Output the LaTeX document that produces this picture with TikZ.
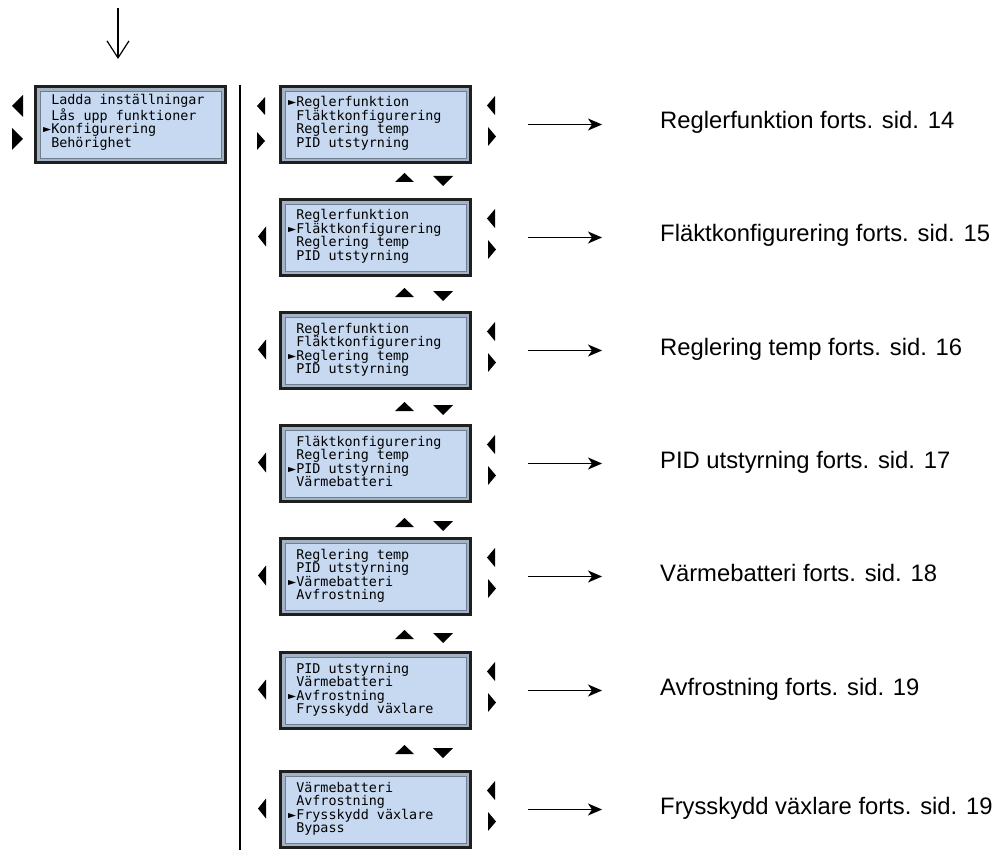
\documentclass[tikz,border=0pt]{standalone}
\usepackage{fontspec}
\setmainfont{Liberation Sans}
\newfontfamily\lcdfont{DejaVu Sans Mono}
\usetikzlibrary{arrows.meta}
\definecolor{lcdblue}{HTML}{C6D9F1}
\definecolor{lcdbevel}{HTML}{A3B3C4}
\definecolor{lcdedge}{HTML}{6E7E8E}
\tikzset{
  x=1pt, y=-1pt,
  lcdouter/.style={draw=black!88, line width=3pt, fill=lcdbevel, minimum width=190pt, minimum height=76pt, inner sep=0pt, outer sep=0pt},
  lcdinner/.style={draw=lcdedge, line width=0.7pt, fill=lcdblue, minimum width=181pt, minimum height=67pt, inner sep=0pt, outer sep=0pt},
  lcdtext/.style={anchor=base west, inner sep=0pt, align=left, font=\lcdfont\fontsize{13.4}{13.5}\selectfont},
  lbl/.style={anchor=base west, inner sep=0pt, font=\fontsize{23.8}{28}\selectfont},
  conn/.style={line width=1.3pt, -{Stealth[length=14pt,width=12pt,inset=4pt]}},
  marker/.style={fill=black},
}
\newcommand\lsp{\hphantom{X}}
\newcommand\lsel{►}
\newcommand\lcdbox[4]{%
  \node[lcdouter] (#1) at (#2+96.5,#3+39.5) {};
  \node[lcdinner] (#1-in) at (#1.center) {};
  \node[lcdtext] (#1-t) at (#2+9,#3+62.5) {#4};
}
% left-pointing triangle: x-left, y-center, width, height
\newcommand\tril[4]{\fill[marker] (#1,#2) -- (#1+#3,#2-#4/2) -- (#1+#3,#2+#4/2) -- cycle;}
\newcommand\trir[4]{\fill[marker] (#1,#2-#4/2) -- (#1+#3,#2) -- (#1,#2+#4/2) -- cycle;}
% up/down: x-center, y-top, width, height
\newcommand\triu[4]{\fill[marker] (#1-#3/2,#2+#4) -- (#1,#2) -- (#1+#3/2,#2+#4) -- cycle;}
\newcommand\trid[4]{\fill[marker] (#1-#3/2,#2) -- (#1+#3/2,#2) -- (#1,#2+#4) -- cycle;}
% right-side pair for a box with given top
\newcommand\rpair[1]{\tril{487}{#1+20.5}{8}{19}\trir{488}{#1+51.5}{8}{19}}
\newcommand\updown[1]{\triu{404.5}{#1}{19}{9}\trid{443}{#1+3}{20}{10}}
\newcommand\outarrow[3]{% name, cy, label
  \coordinate (#1s) at (528,#2);
  \coordinate (#1e) at (602,#2);
  \draw[conn] (#1s) -- (#1e);
  \node[lbl] (#1l) at (660,#2+4.5) {#3};
}
\begin{document}
\begin{tikzpicture}
\useasboundingbox (0,0) rectangle (995,850);

% entry arrow
\coordinate (entryS) at (118,8);
\coordinate (entryE) at (118,59);
\draw[line width=1.2pt, -{Straight Barb[length=17pt,width=22pt]}] (entryS) -- (entryE);

% left box
\lcdbox{main}{34}{85}{\lsp Ladda inställningar\\\lsp Lås upp funktioner\\\lsel Konfigurering\\\lsp Behörighet}
\tril{12}{106}{11}{22}
\trir{12}{139}{11}{22}

% separator
\coordinate (sepT) at (240,85);
\coordinate (sepB) at (240,850);
\draw[line width=1.6pt] (sepT) -- (sepB);

% right boxes
\lcdbox{b1}{279}{85}{\lsel Reglerfunktion\\\lsp Fläktkonfigurering\\\lsp Reglering temp\\\lsp PID utstyrning}
\lcdbox{b2}{279}{198}{\lsp Reglerfunktion\\\lsel Fläktkonfigurering\\\lsp Reglering temp\\\lsp PID utstyrning}
\lcdbox{b3}{279}{311}{\lsp Reglerfunktion\\\lsp Fläktkonfigurering\\\lsel Reglering temp\\\lsp PID utstyrning}
\lcdbox{b4}{279}{424}{\lsp Fläktkonfigurering\\\lsp Reglering temp\\\lsel PID utstyrning\\\lsp Värmebatteri}
\lcdbox{b5}{279}{537}{\lsp Reglering temp\\\lsp PID utstyrning\\\lsel Värmebatteri\\\lsp Avfrostning}
\lcdbox{b6}{279}{651}{\lsp PID utstyrning\\\lsp Värmebatteri\\\lsel Avfrostning\\\lsp Frysskydd växlare}
\lcdbox{b7}{279}{770}{\lsp Värmebatteri\\\lsp Avfrostning\\\lsel Frysskydd växlare\\\lsp Bypass}

% left side markers
\tril{257}{106}{8}{18}
\trir{257}{141}{8}{18}
\tril{258}{236.5}{8}{20}
\tril{258}{349.5}{8}{20}
\tril{258}{462.5}{8}{20}
\tril{258}{575.5}{8}{20}
\tril{258}{689.5}{8}{20}
\tril{258}{808.5}{8}{20}

% right side markers
\rpair{85}\rpair{198}\rpair{311}\rpair{424}\rpair{537}\rpair{651}\rpair{770}

% up/down markers
\updown{173}\updown{288}\updown{402}\updown{518}\updown{630}\updown{745}

% outgoing arrows and labels
\outarrow{o1}{124.5}{Reglerfunktion forts. sid. 14}
\outarrow{o2}{237.5}{Fläktkonfigurering forts. sid. 15}
\outarrow{o3}{350.5}{Reglering temp forts. sid. 16}
\outarrow{o4}{463.5}{PID utstyrning forts. sid. 17}
\outarrow{o5}{576.5}{Värmebatteri forts. sid. 18}
\outarrow{o6}{690.5}{Avfrostning forts. sid. 19}
\outarrow{o7}{809.5}{Frysskydd växlare forts. sid. 19}
\end{tikzpicture}
\end{document}
